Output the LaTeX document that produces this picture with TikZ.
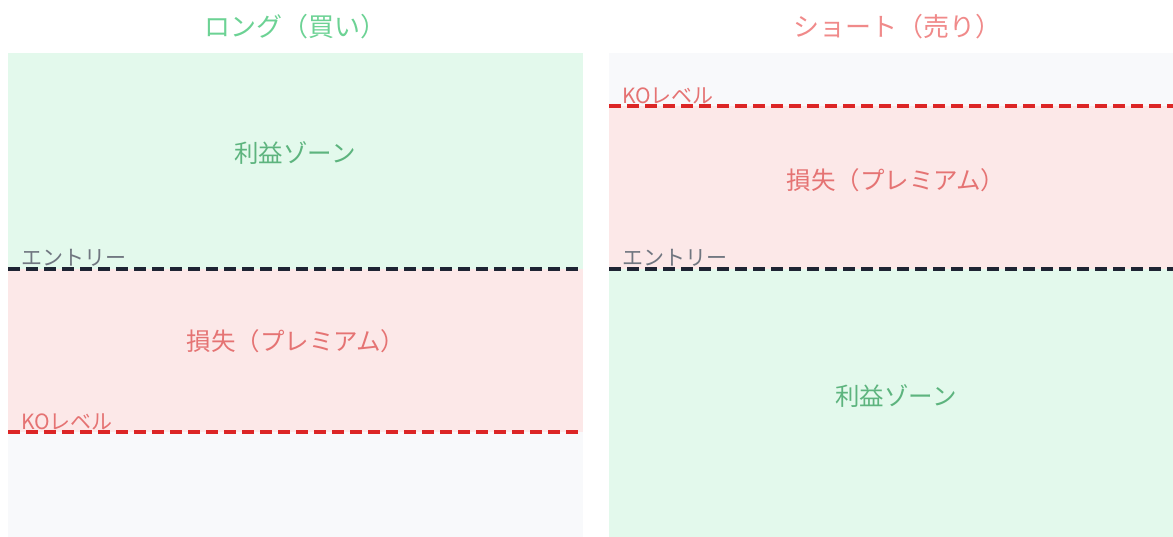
\documentclass[tikz,border=0pt]{standalone}
\usepackage{fontspec}
\setmainfont{Noto Sans CJK JP}
\begin{document}
\begin{tikzpicture}[x=1pt,y=-1pt,
  title/.style={font=\fontsize{26}{28}\selectfont, inner sep=0pt},
  zone/.style={font=\fontsize{24.5}{26}\selectfont, inner sep=0pt},
  lvl/.style={font=\fontsize{21}{23}\selectfont, inner sep=0pt, anchor=south west},
  dline/.style={line width=3.5pt, dash pattern=on 12pt off 6pt}]
\definecolor{gbg}{HTML}{E3F9EC}
\definecolor{pbg}{HTML}{FCE8E8}
\definecolor{nbg}{HTML}{F8F9FB}
\definecolor{gtxt}{HTML}{5DB47E}
\definecolor{gtitle}{HTML}{6CD294}
\definecolor{ptxt}{HTML}{E57373}
\definecolor{ptitle}{HTML}{F08A8A}
\definecolor{kored}{HTML}{DC2626}
\definecolor{entk}{HTML}{1E2433}
\definecolor{labg}{HTML}{707680}
\useasboundingbox (0,0) rectangle (1173,537);
% left panel
\fill[gbg] (8,53) rectangle (583,269);
\fill[pbg] (8,269) rectangle (583,432);
\fill[nbg] (8,432) rectangle (583,537);
% right panel
\fill[nbg] (609,53) rectangle (1173,106);
\fill[pbg] (609,106) rectangle (1173,269);
\fill[gbg] (609,269) rectangle (1173,537);
% titles
\node[title, text=gtitle] (tl) at (295,27) {ロング（買い）};
\node[title, text=ptitle] (tr) at (897,27) {ショート（売り）};
% zone texts
\node[zone, text=gtxt] (lp) at (295,153) {利益ゾーン};
\node[zone, text=ptxt] (ll) at (296,341) {損失（プレミアム）};
\node[zone, text=ptxt] (rl) at (896,180) {損失（プレミアム）};
\node[zone, text=gtxt] (rp) at (896,396) {利益ゾーン};
% lines
\coordinate (le1) at (8,269); \coordinate (le2) at (583,269);
\coordinate (lk1) at (8,432); \coordinate (lk2) at (583,432);
\coordinate (re1) at (609,269); \coordinate (re2) at (1173,269);
\coordinate (rk1) at (609,106); \coordinate (rk2) at (1173,106);
\draw[dline, entk] (le1) -- (le2);
\draw[dline, kored] (lk1) -- (lk2);
\draw[dline, entk] (re1) -- (re2);
\draw[dline, kored] (rk1) -- (rk2);
% level labels
\node[lvl, text=labg] (lel) at (21,267) {エントリー};
\node[lvl, text=ptxt] (lkl) at (21,430) {KOレベル};
\node[lvl, text=labg] (rel) at (622,267) {エントリー};
\node[lvl, text=ptxt] (rkl) at (622,104) {KOレベル};
\end{tikzpicture}
\end{document}
